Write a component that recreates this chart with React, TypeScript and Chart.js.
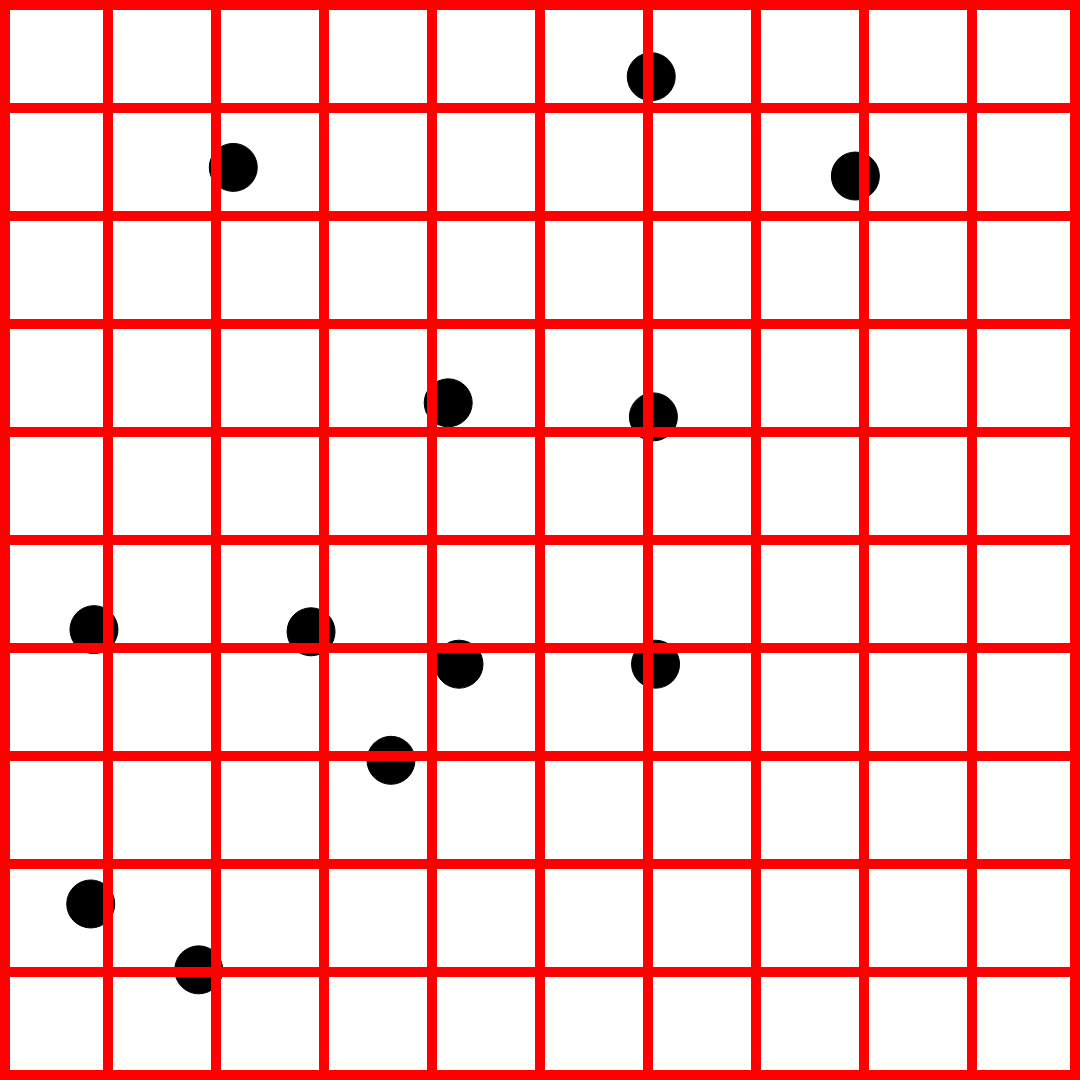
import React, { useEffect, useRef } from "react";
import { Chart, registerables } from "chart.js";

Chart.register(...registerables);

const xValues = [6.03, 2.16, 7.92, 4.15, 6.05, 0.87, 2.88, 4.25, 6.07, 3.62, 0.84, 1.84];
const yValues = [9.29, 8.45, 8.37, 6.27, 6.14, 4.17, 4.15, 3.85, 3.85, 2.96, 1.63, 1.02];
const axisMin = 0;
const axisMax = 10;

export default function App() {
  const ref = useRef<HTMLCanvasElement | null>(null);

  useEffect(() => {
    if (!ref.current) return;
    const points = xValues.map((x, i) => ({ x, y: yValues[i] }));
    const gridWidth = (ctx: any) =>
      ctx.index === 0 || ctx.index === axisMax - axisMin ? 20 : 10;
    const chart = new Chart(ref.current, {
      type: "scatter",
      data: {
        datasets: [
          {
            data: points,
            backgroundColor: "#000000",
            borderColor: "#000000",
            borderWidth: 1,
            pointRadius: 24,
            pointHoverRadius: 24,
          },
        ],
      },
      options: {
        responsive: false,
        animation: false,
        layout: { padding: 0, autoPadding: false },
        plugins: { legend: { display: false }, tooltip: { enabled: false } },
        scales: {
          x: {
            type: "linear",
            min: axisMin,
            max: axisMax,
            ticks: { display: false, stepSize: 1 },
            grid: { color: "#ff0000", lineWidth: gridWidth, drawTicks: false, z: 1 },
            border: { display: false },
          },
          y: {
            type: "linear",
            min: axisMin,
            max: axisMax,
            ticks: { display: false, stepSize: 1 },
            grid: { color: "#ff0000", lineWidth: gridWidth, drawTicks: false, z: 1 },
            border: { display: false },
          },
        },
      },
    });
    return () => chart.destroy();
  }, []);

  return (
    <div style={{ position: "absolute", left: 0, top: 0, width: 1080, height: 1080, background: "#ffffff" }}>
      <canvas ref={ref} width={1080} height={1080} style={{ display: "block" }} />
    </div>
  );
}
